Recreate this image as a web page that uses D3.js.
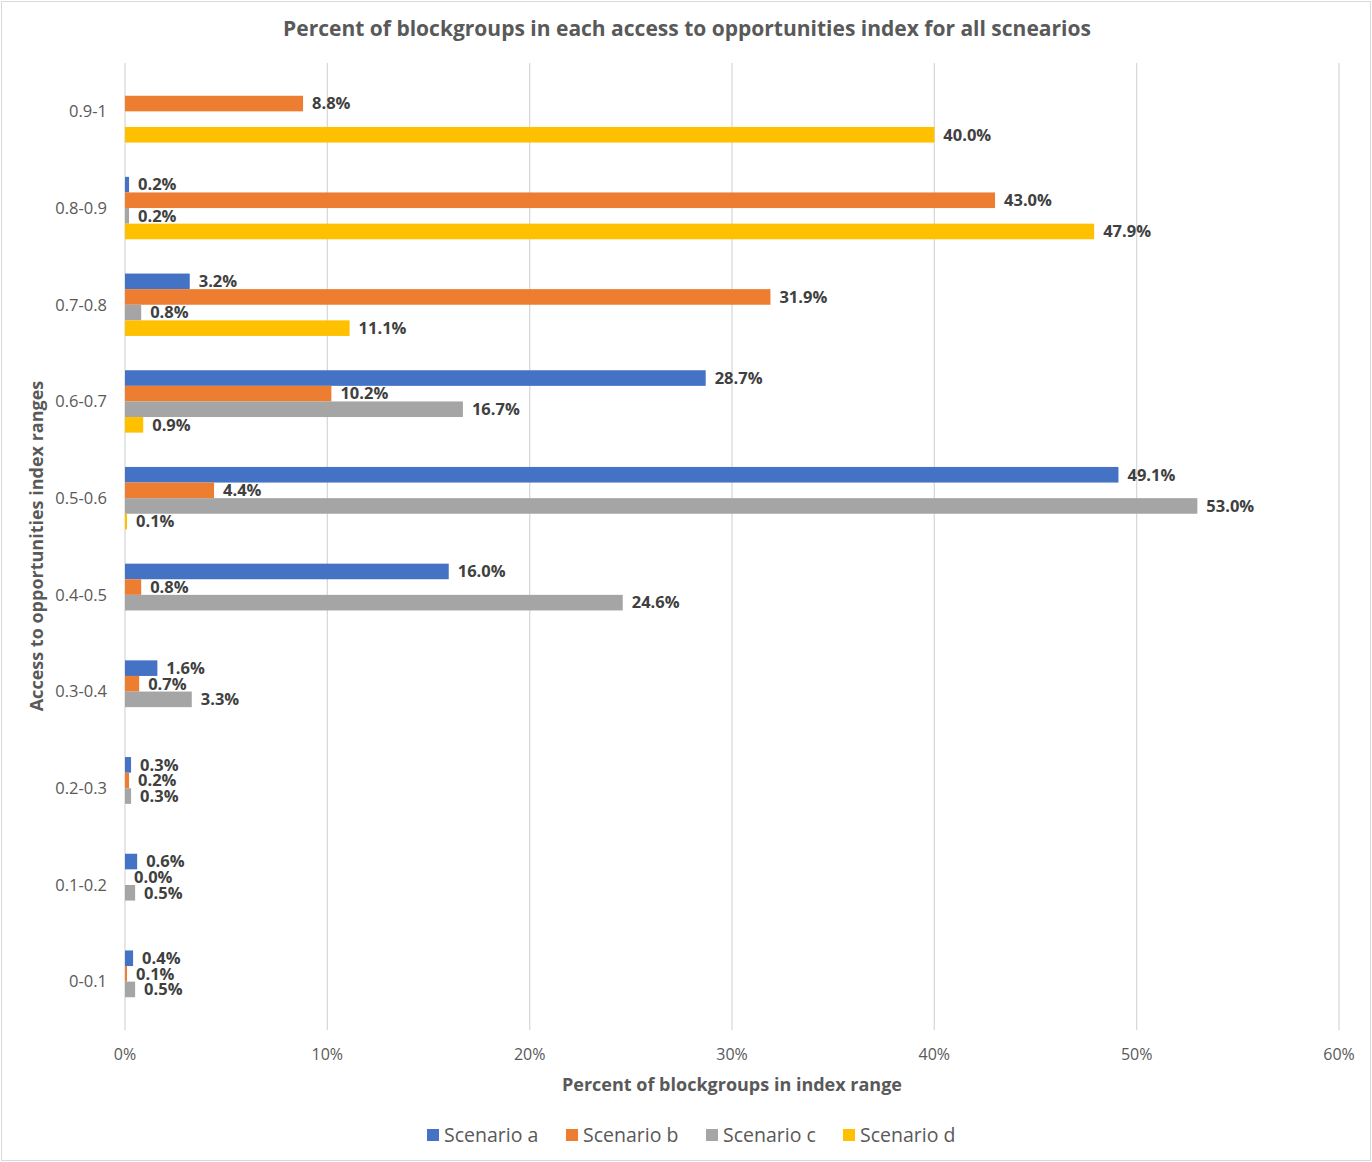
<!DOCTYPE html>
<html>
<head>
<meta charset="utf-8">
<script src="https://cdn.jsdelivr.net/npm/d3@7"></script>
<style>
  body { margin: 0; background: #fff; }
  svg text { font-family: "Open Sans", Lato, sans-serif; }
</style>
</head>
<body>
<svg id="chart" width="1372" height="1162"></svg>
<script>
// index ranges, top to bottom
const categories = ['0.9-1', '0.8-0.9', '0.7-0.8', '0.6-0.7', '0.5-0.6', '0.4-0.5', '0.3-0.4', '0.2-0.3', '0.1-0.2', '0-0.1'];
const seriesNames = ['Scenario a', 'Scenario b', 'Scenario c', 'Scenario d'];
// percent values, null = no bar / no label
const scenarioA = [null, 0.2, 3.2, 28.7, 49.1, 16.0, 1.6, 0.3, 0.6, 0.4];
const scenarioB = [8.8, 43.0, 31.9, 10.2, 4.4, 0.8, 0.7, 0.2, 0.0, 0.1];
const scenarioC = [null, 0.2, 0.8, 16.7, 53.0, 24.6, 3.3, 0.3, 0.5, 0.5];
const scenarioD = [40.0, 47.9, 11.1, 0.9, 0.1, null, null, null, null, null];
const xTicks = [0, 10, 20, 30, 40, 50, 60];

(function() {
  const allSeries = [scenarioA, scenarioB, scenarioC, scenarioD];
  const colors = ['#4472C4', '#ED7D31', '#A5A5A5', '#FFC000'];

  const svg = d3.select('#chart');
  const W = 1372, H = 1162;

  // outer chart border
  svg.append('rect')
    .attr('x', 1.5).attr('y', 1.5)
    .attr('width', W - 3).attr('height', H - 3)
    .attr('fill', 'none').attr('stroke', '#d9d9d9');

  const plotL = 125, plotR = 1339, plotT = 63, plotB = 1030;

  const x = d3.scaleLinear().domain([0, 60]).range([plotL, plotR]);
  const y = d3.scaleBand().domain(categories).range([plotT, plotB]).padding(0);
  const groupH = 62.4;
  const ySub = d3.scaleBand().domain(seriesNames).range([0, groupH]).padding(0);

  // gridlines
  svg.append('g')
    .selectAll('line')
    .data(xTicks)
    .join('line')
    .attr('x1', d => x(d)).attr('x2', d => x(d))
    .attr('y1', plotT).attr('y2', plotB)
    .attr('stroke', '#d9d9d9')
    .attr('stroke-width', 1.3);

  // x tick labels
  svg.append('g')
    .selectAll('text')
    .data(xTicks)
    .join('text')
    .attr('x', d => x(d))
    .attr('y', 1060)
    .attr('text-anchor', 'middle')
    .attr('font-size', 16)
    .attr('fill', '#595959')
    .text(d => d + '%');

  // y tick labels
  svg.append('g')
    .selectAll('text')
    .data(categories)
    .join('text')
    .attr('x', 107)
    .attr('y', d => y(d) + y.bandwidth() / 2)
    .attr('dy', '0.35em')
    .attr('text-anchor', 'end')
    .attr('font-size', 16.5)
    .attr('fill', '#595959')
    .text(d => d);

  // bars + labels
  const rows = [];
  allSeries.forEach((vals, si) => {
    vals.forEach((v, ci) => {
      if (v === null) return;
      rows.push({ cat: categories[ci], s: seriesNames[si], si, v });
    });
  });

  const barY = d => y(d.cat) + y.bandwidth() / 2 - groupH / 2 + ySub(d.s);

  svg.append('g')
    .selectAll('rect')
    .data(rows)
    .join('rect')
    .attr('x', x(0))
    .attr('y', d => barY(d))
    .attr('width', d => x(d.v) - x(0))
    .attr('height', ySub.bandwidth())
    .attr('fill', d => colors[d.si]);

  svg.append('g')
    .selectAll('text')
    .data(rows)
    .join('text')
    .attr('x', d => x(d.v) + 9)
    .attr('y', d => barY(d) + ySub.bandwidth() / 2)
    .attr('dy', '0.35em')
    .attr('font-size', 16.5)
    .attr('font-weight', 'bold')
    .attr('fill', '#404040')
    .text(d => d.v.toFixed(1) + '%');

  // title
  svg.append('text')
    .attr('x', 687).attr('y', 36)
    .attr('text-anchor', 'middle')
    .attr('font-size', 21)
    .attr('font-weight', 'bold')
    .attr('fill', '#595959')
    .text('Percent of blockgroups in each access to opportunities index for all scnearios');

  // axis titles
  svg.append('text')
    .attr('x', 732).attr('y', 1091)
    .attr('text-anchor', 'middle')
    .attr('font-size', 18)
    .attr('font-weight', 'bold')
    .attr('fill', '#595959')
    .text('Percent of blockgroups in index range');

  svg.append('text')
    .attr('transform', 'translate(43,546) rotate(-90)')
    .attr('text-anchor', 'middle')
    .attr('font-size', 18)
    .attr('font-weight', 'bold')
    .attr('fill', '#595959')
    .text('Access to opportunities index ranges');

  // legend
  const legendX = [427, 566, 706, 843];
  const legend = svg.append('g')
    .selectAll('g')
    .data(seriesNames)
    .join('g')
    .attr('transform', (d, i) => `translate(${legendX[i]},1135)`);
  legend.append('rect')
    .attr('x', 0).attr('y', -6)
    .attr('width', 12).attr('height', 12)
    .attr('fill', (d, i) => colors[i]);
  legend.append('text')
    .attr('x', 17).attr('y', 0)
    .attr('dy', '0.35em')
    .attr('font-size', 19.5)
    .attr('fill', '#595959')
    .text(d => d);
})();
</script>
</body>
</html>
